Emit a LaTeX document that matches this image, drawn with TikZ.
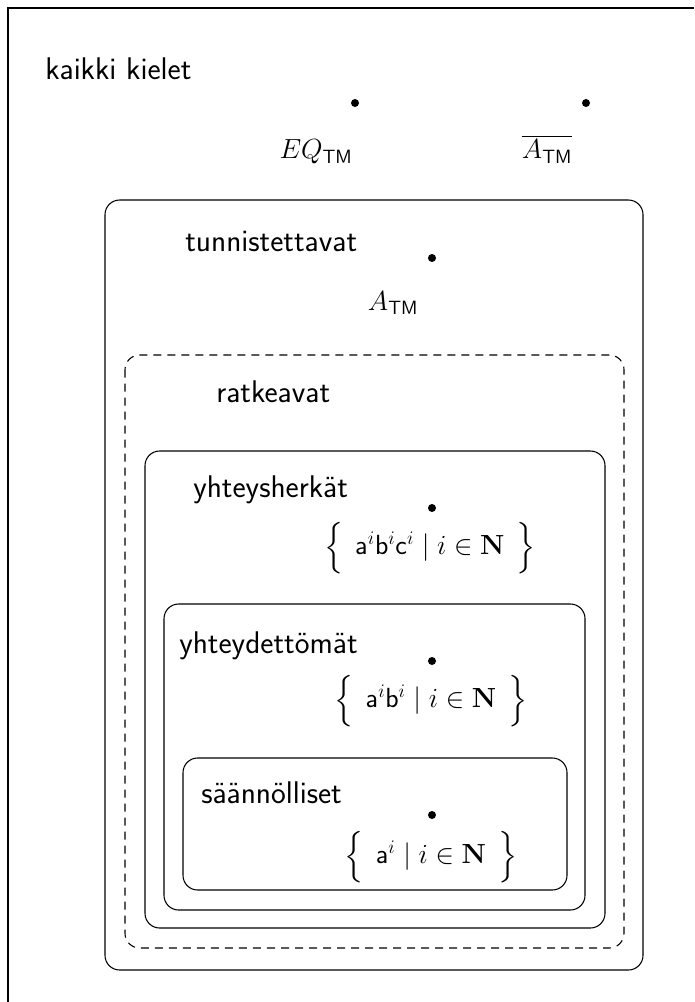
\documentclass[tikz,border=0pt]{standalone}
\usepackage{amsmath,amssymb}
\begin{document}
\begin{tikzpicture}[x=0.75pt,y=-0.75pt,
  frame/.style={line width=1pt},
  setbox/.style={draw,line width=0.8pt,rounded corners=11pt},
  dashbox/.style={draw,line width=0.8pt,rounded corners=11pt,dash pattern=on 6pt off 4.5pt},
  classname/.style={anchor=base west,inner sep=0pt,font=\fontsize{23.5}{28}\selectfont\sffamily},
  member/.style={circle,fill,inner sep=0pt,minimum size=6pt},
  lang/.style={inner sep=0pt,font=\fontsize{21.5}{26}\selectfont}
]
\useasboundingbox (0,0) rectangle (694,1002);
% outer frame (only its top and left edges fall inside the page)
\draw[frame] (8,1002) -- (8,8) -- (694,8);

% nested classes of languages
\draw[setbox]  (105,200) rectangle (643,970);
\draw[dashbox] (125,355) rectangle (624,948);
\draw[setbox]  (145,451) rectangle (605,928);
\draw[setbox]  (164,604) rectangle (585,910);
\draw[setbox]  (183,758) rectangle (567,890);

% class names
\node[classname] (all)  at (45,80)   {kaikki kielet};
\node[classname] (re)   at (185,251) {tunnistettavat};
\node[classname] (rec)  at (216,402) {ratkeavat};
\node[classname] (csl)  at (193,497) {yhteysherkät};
\node[classname] (cfl)  at (179,653) {yhteydettömät};
\node[classname] (reg)  at (201,803) {säännölliset};

% example languages
\node[member] (eqdot)   at (355,103) {};
\node[member] (cadot)   at (586,103) {};
\node[member] (adot)    at (432,258) {};
\node[member] (abcdot)  at (432,508) {};
\node[member] (abdot)   at (432,661) {};
\node[member] (adot2)   at (432,815) {};

\node[lang,anchor=base] (eq)  at (316,159) {$EQ_{\mathsf{TM}}$};
\node[lang,anchor=base] (ca)  at (547,159) {$\overline{A_{\mathsf{TM}}}$};
\node[lang,anchor=base] (atm) at (393,310) {$A_{\mathsf{TM}}$};
\node[lang] (abc) at (430,548) {$\Big\{\;\,\mathsf{a}^i\mathsf{b}^i\mathsf{c}^i \mid i\in\mathbf{N}\;\,\Big\}$};
\node[lang] (ab)  at (431,701) {$\Big\{\;\,\mathsf{a}^i\mathsf{b}^i \mid i\in\mathbf{N}\;\,\Big\}$};
\node[lang] (a)   at (431,857) {$\Big\{\;\,\mathsf{a}^i \mid i\in\mathbf{N}\;\,\Big\}$};
\end{tikzpicture}
\end{document}
